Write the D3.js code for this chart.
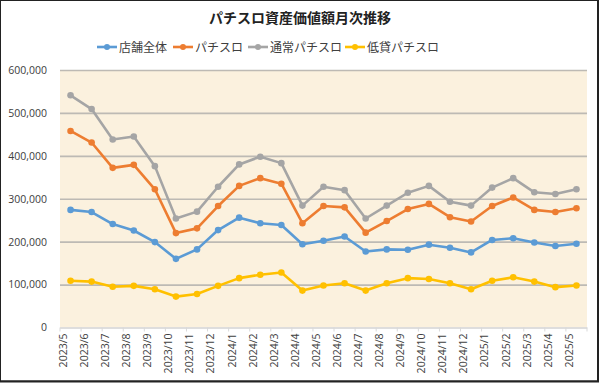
<!DOCTYPE html>
<html><head><meta charset="utf-8">
<script src="https://cdn.jsdelivr.net/npm/d3@7"></script>
<style>body{margin:0;background:#fff}svg{display:block}</style>
</head><body><svg id="c" width="600" height="383"></svg>
<script>
const months = ["2023/5","2023/6","2023/7","2023/8","2023/9","2023/10","2023/11","2023/12","2024/1","2024/2","2024/3","2024/4","2024/5","2024/6","2024/7","2024/8","2024/9","2024/10","2024/11","2024/12","2025/1","2025/2","2025/3","2025/4","2025/5"];
const storeTotal = [274000,269000,241000,226000,199000,160000,182000,227000,256000,243000,239000,194000,202000,212000,177000,182000,181000,193000,186000,175000,204000,208000,198000,190000,195000];
const pachislot = [458000,431000,372000,379000,322000,220000,231000,283000,330000,348000,335000,243000,283000,280000,221000,248000,276000,288000,257000,247000,283000,303000,274000,269000,278000];
const normalSlot = [541000,509000,438000,445000,376000,254000,270000,328000,380000,398000,383000,284000,328000,320000,254000,284000,314000,330000,293000,284000,326000,348000,315000,311000,322000];
const lowSlot = [109000,107000,95000,97000,89000,72000,78000,97000,115000,123000,128000,86000,98000,103000,86000,103000,115000,113000,103000,89000,109000,117000,107000,94000,98000];
const yTicks = [0,100000,200000,300000,400000,500000,600000];
const seriesNames = ["店舗全体","パチスロ","通常パチスロ","低貸パチスロ"];
const seriesColors = ["#5B9BD5","#ED7D31","#A5A5A5","#FFC000"];
const seriesData = [storeTotal, pachislot, normalSlot, lowSlot];

const svg = d3.select("#c");
const W=600,H=383;
const m={l:60,r:13,t:70,b:56};
const x = d3.scaleBand().domain(months).range([m.l, W-m.r]);
const y = d3.scaleLinear().domain([0,600000]).range([327.5, m.t]);

// frame
svg.append("rect").attr("x",0.5).attr("y",0.5).attr("width",597).attr("height",380.5).attr("fill","#fff").attr("stroke","#222").attr("stroke-width",1);
svg.append("line").attr("x1",598).attr("x2",598).attr("y1",0).attr("y2",382).attr("stroke","#222").attr("stroke-width",2);
svg.append("line").attr("x1",0).attr("x2",599).attr("y1",381.5).attr("y2",381.5).attr("stroke","#222").attr("stroke-width",2);

// plot bg
svg.append("rect").attr("x",m.l).attr("y",y(600000)).attr("width",W-m.r-m.l).attr("height",y(0)-y(600000)).attr("fill","#FBF1DE");

// grid
const gy = svg.append("g").attr("transform",`translate(${m.l},0)`)
  .call(d3.axisLeft(y).tickValues(yTicks).tickSize(-(W-m.r-m.l)).tickFormat(d3.format(",")).tickPadding(13));
gy.select(".domain").remove();
gy.selectAll(".tick line").attr("stroke",d=>d===0?"#D9D9D9":"#BDBAB4").attr("stroke-width",1.6);
gy.selectAll(".tick text").attr("fill","#404040").style("font-family","'Open Sans','Noto Sans',sans-serif").style("font-size","10.5px");

// x axis
const gx = svg.append("g").attr("transform",`translate(0,${y(0)})`)
  .call(d3.axisBottom(x).tickSizeOuter(0).tickSize(0));
gx.select(".domain").attr("stroke","#D9D9D9").attr("stroke-width",1.2);
gx.selectAll(".tick text").attr("fill","#404040").style("font-family","'Open Sans','Noto Sans',sans-serif").style("font-size","10.5px")
  .attr("transform","rotate(-90)").attr("text-anchor","end").attr("dx","-6px").attr("dy","-0.35em").attr("x",0).attr("y",0);
// boundary ticks
const bounds = months.map(d=>x(d)).concat([x(months[months.length-1])+x.bandwidth()]);
svg.append("g").selectAll("line").data(bounds).join("line")
  .attr("x1",d=>d).attr("x2",d=>d).attr("y1",y(0)).attr("y2",y(0)+4).attr("stroke","#D9D9D9").attr("stroke-width",1);

const cx = d=>x(d)+x.bandwidth()/2;
const line = d3.line().x((v,i)=>cx(months[i])).y(v=>y(v));
const order=[2,1,0,3];
order.forEach(si=>{
  const g = svg.append("g");
  g.append("path").datum(seriesData[si]).attr("d",line).attr("fill","none").attr("stroke",seriesColors[si]).attr("stroke-width",2.6).attr("stroke-linejoin","round");
  g.selectAll("circle").data(seriesData[si]).join("circle").attr("cx",(v,i)=>cx(months[i])).attr("cy",v=>y(v)).attr("r",3.3).attr("fill",seriesColors[si]);
});

// title
svg.append("text").attr("x",300).attr("y",23).attr("text-anchor","middle").attr("fill","#222")
  .style("font-family","'Noto Sans CJK JP',sans-serif").style("font-weight","bold").style("font-size","14px").text("パチスロ資産価値額月次推移");

// legend
const legX=[97,173,248,345];
const lg = svg.append("g");
seriesNames.forEach((n,i)=>{
  const g=lg.append("g").attr("transform",`translate(${legX[i]},47)`);
  g.append("line").attr("x1",0).attr("x2",20).attr("y1",0).attr("y2",0).attr("stroke",seriesColors[i]).attr("stroke-width",2.6);
  g.append("circle").attr("cx",10).attr("cy",0).attr("r",3).attr("fill",seriesColors[i]);
  g.append("text").attr("x",22).attr("y",4.5).attr("fill","#404040").style("font-family","'Noto Sans CJK JP',sans-serif").style("font-size","12px").text(n);
});
</script></body></html>
